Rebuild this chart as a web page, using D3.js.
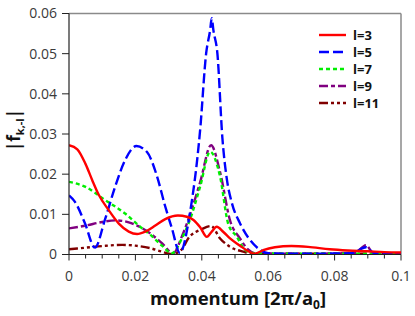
<!DOCTYPE html>
<html><head><meta charset="utf-8">
<script src="https://cdn.jsdelivr.net/npm/d3@7"></script>
<style>body{margin:0;background:#fff}svg{display:block}text{font-family:"Open Sans",sans-serif}</style>
</head><body>
<svg id="c" width="415" height="316"></svg>
<script>
const seriesNames = ["l=3","l=5","l=7","l=9","l=11"];
const colors = ["#ff0000","#0000ff","#00ee00","#800080","#800000"];
const dashes = [null,"10,4","4,3","9,3,4,3","9,3,3,3,3,3"];
const xTicks = [0,0.02,0.04,0.06,0.08,0.1];
const yTicks = [0,0.01,0.02,0.03,0.04,0.05,0.06];

const x3 = [0,0.0025,0.005,0.007,0.009,0.012,0.015,0.018,0.0205,0.023,0.026,0.029,0.0328,0.0355,0.0375,0.0395,0.0415,0.043,0.0445,0.0465,0.0485,0.0515,0.054,0.056,0.0585,0.062,0.067,0.072,0.0785,0.084,0.09,0.095,0.1];
const y3 = [0.0272,0.0262,0.0225,0.0185,0.0148,0.0110,0.0077,0.0057,0.0051,0.0057,0.0072,0.0088,0.0097,0.0094,0.0086,0.0068,0.0044,0.0057,0.0069,0.0056,0.0040,0.0022,0.0008,0.0002,0.0011,0.0018,0.0021,0.0019,0.0013,0.0010,0.0008,0.0006,0.0005];

const x5 = [0,0.0018,0.0048,0.0078,0.0108,0.0139,0.0169,0.0203,0.0235,0.0265,0.0289,0.031,0.0334,0.0364,0.0395,0.0413,0.0425,0.043,0.0435,0.0447,0.0462,0.0475,0.049,0.0515,0.054,0.0575,0.06,0.07,0.085,0.0895,0.092,0.1];
const y5 = [0.0147,0.0131,0.0078,0.0017,0.0086,0.0169,0.0235,0.0270,0.0255,0.0195,0.0122,0.0065,0.0004,0.0102,0.0310,0.0500,0.0558,0.0588,0.0558,0.0500,0.0290,0.0190,0.0130,0.0078,0.0042,0.0012,0.0003,0.0002,0.0003,0.0018,0.0003,0.0002];

const x7 = [0,0.0048,0.0108,0.0169,0.0219,0.0244,0.028,0.031,0.034,0.0364,0.0395,0.0425,0.0455,0.048,0.0505,0.053,0.056,0.07,0.085,0.1];
const y7 = [0.0181,0.0169,0.0136,0.0102,0.0066,0.0050,0.0022,0.0003,0.0040,0.0086,0.0169,0.0256,0.0194,0.0075,0.0045,0.0012,0.0003,0.0002,0.0002,0.0002];

const x9 = [0,0.005,0.01,0.014,0.018,0.021,0.0244,0.028,0.0314,0.034,0.0364,0.0395,0.0428,0.0455,0.0485,0.0515,0.054,0.056,0.07,0.086,0.0895,0.0915,0.1];
const y9 = [0.0065,0.0072,0.0081,0.0085,0.0080,0.0070,0.0053,0.0028,0.0003,0.0045,0.0098,0.0180,0.0272,0.0205,0.0085,0.0040,0.0012,0.0003,0.0002,0.0004,0.0023,0.0005,0.0002];

const x11 = [0,0.005,0.01,0.016,0.02,0.0244,0.028,0.031,0.034,0.0359,0.040,0.0428,0.0455,0.0485,0.0525,0.055,0.1];
const y11 = [0.0013,0.0017,0.0021,0.0024,0.0022,0.0016,0.0007,0.0001,0.0013,0.0040,0.0063,0.0071,0.0040,0.0019,0.0007,0.0002,0.0002];

const xs = [x3,x5,x7,x9,x11];
const ys = [y3,y5,y7,y9,y11];

const L=69, R=401, T=13.5, B=254.5;
const svg = d3.select("#c");
const x = d3.scaleLinear().domain([0,0.1]).range([L,R]);
const y = d3.scaleLinear().domain([0,0.06]).range([B,T]);

svg.append("defs").append("clipPath").attr("id","clip").append("rect")
  .attr("x",L).attr("y",T-2).attr("width",R-L).attr("height",B-T+2);

svg.append("line").attr("x1",L).attr("x2",R).attr("y1",T).attr("y2",T).attr("stroke","#8a8a8a").attr("stroke-width",1.5);
svg.append("line").attr("x1",R).attr("x2",R).attr("y1",T).attr("y2",B).attr("stroke","#8a8a8a").attr("stroke-width",1.5);

const line = d3.line().x(d=>x(d[0])).y(d=>y(d[1])).curve(d3.curveMonotoneX);
const g = svg.append("g").attr("clip-path","url(#clip)");
[4,3,2,1,0].forEach(i=>{
  const data = xs[i].map((v,j)=>[v,ys[i][j]]);
  g.append("path").attr("d",line(data)).attr("fill","none")
   .attr("stroke",colors[i]).attr("stroke-width",2.4)
   .attr("stroke-dasharray",dashes[i]);
});

const xMinor = d3.range(0,0.1001,0.005);
const xa = svg.append("g").attr("transform",`translate(0,${B})`);
xa.append("line").attr("x1",L).attr("x2",R).attr("stroke","#222").attr("stroke-width",1.2);
xMinor.forEach(v=>{
  const major = xTicks.some(t=>Math.abs(t-v)<1e-9);
  xa.append("line").attr("x1",x(v)).attr("x2",x(v)).attr("y1",0).attr("y2",major?6:4).attr("stroke","#222").attr("stroke-width",1);
});
xTicks.forEach(v=>{
  xa.append("text").attr("x",x(v)).attr("y",26).attr("text-anchor","middle")
   .attr("font-size",14).attr("fill","#3a3a3a").text(v===0?"0":d3.format("")(v));
});
const ya = svg.append("g").attr("transform",`translate(${L},0)`);
ya.append("line").attr("y1",T).attr("y2",B).attr("stroke","#222").attr("stroke-width",1.2);
yTicks.forEach(v=>{
  ya.append("line").attr("x1",-7).attr("x2",0).attr("y1",y(v)).attr("y2",y(v)).attr("stroke","#222").attr("stroke-width",1);
  ya.append("text").attr("x",-12).attr("y",y(v)).attr("dy","0.35em").attr("text-anchor","end")
   .attr("font-size",14).attr("fill","#3a3a3a").text(v===0?"0":d3.format("")(v));
});

const xt = svg.append("text").attr("x",238).attr("y",305).attr("text-anchor","middle")
  .attr("font-size",18.5).attr("font-weight","bold").attr("fill","#111");
xt.append("tspan").text("momentum [2π/a");
xt.append("tspan").attr("font-size",12).attr("dy",4).text("0");
xt.append("tspan").attr("dy",-4).text("]");

const yt = svg.append("text").attr("transform","translate(20,130) rotate(-90)").attr("text-anchor","middle")
  .attr("font-size",17).attr("font-weight","bold").attr("fill","#111");
yt.append("tspan").text("|f");
yt.append("tspan").attr("font-size",11).attr("dy",4).text("k,-l");
yt.append("tspan").attr("dy",-4).text("|");

seriesNames.forEach((n,i)=>{
  const yy = 35 + i*17;
  svg.append("line").attr("x1",319).attr("x2",346).attr("y1",yy).attr("y2",yy)
    .attr("stroke",colors[i]).attr("stroke-width",2.4).attr("stroke-dasharray",dashes[i]);
  svg.append("text").attr("x",353).attr("y",yy).attr("dy","0.35em").attr("font-size",13)
    .attr("font-weight","bold").attr("fill","#111").text(n);
});
</script>
</body></html>
